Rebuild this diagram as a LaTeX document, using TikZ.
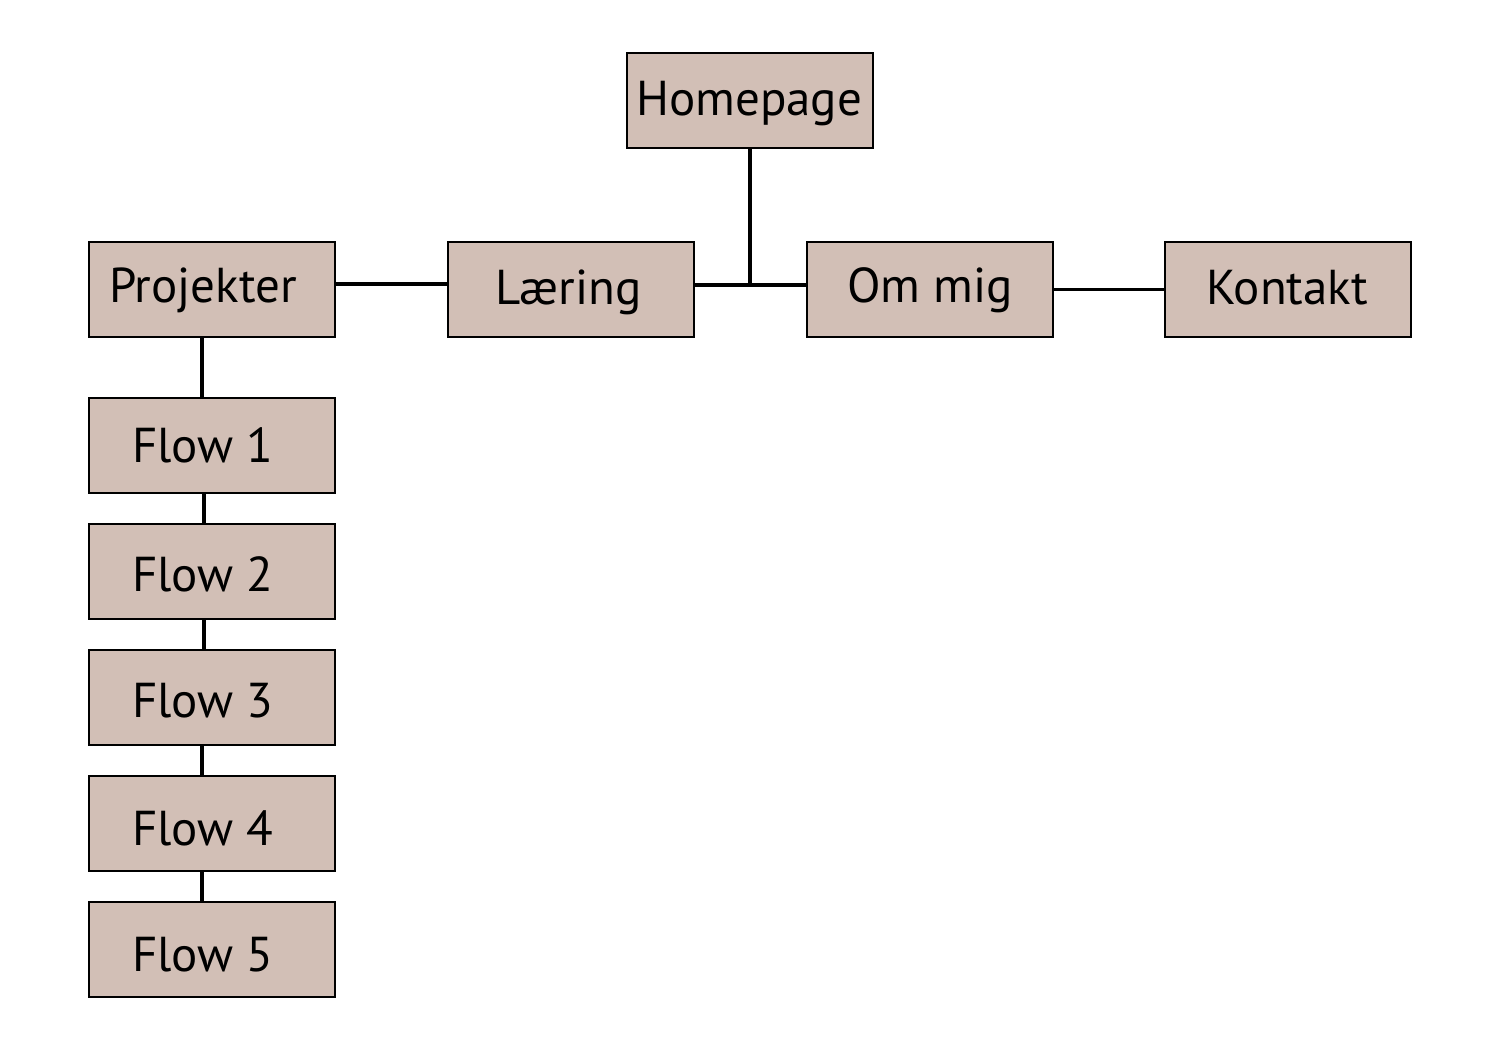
\documentclass[tikz,border=0pt]{standalone}
\usepackage{fontspec}
\setmainfont{PT Sans}
\definecolor{boxfill}{HTML}{D2BFB6}
\begin{document}
\begin{tikzpicture}[x=1pt,y=-1pt,
  box/.style={draw=black,line width=1.2pt,fill=boxfill,minimum width=246pt,minimum height=95pt,inner sep=0pt},
  lbl/.style={anchor=base west,inner sep=0pt,font=\fontsize{49}{58}\selectfont},
  conn/.style={line width=3.5pt}]
\useasboundingbox (0,0) rectangle (1487,1060);
\node[box] (home) at (750,100.5) {};
\node[box] (proj) at (212,289.5) {};
\node[box] (laer) at (571,289.5) {};
\node[box] (om) at (930,289.5) {};
\node[box] (kont) at (1288,289.5) {};
\node[box] (f1) at (212,445.5) {};
\node[box] (f2) at (212,571.5) {};
\node[box] (f3) at (212,697.5) {};
\node[box] (f4) at (212,823.5) {};
\node[box] (f5) at (212,949.5) {};
\node[lbl] (homet) at (636,115) {Homepage};
\node[lbl] (projt) at (109,302) {Projekter};
\node[lbl] (laert) at (495,304) {Læring};
\node[lbl] (omt) at (847,302) {Om mig};
\node[lbl] (kontt) at (1206,304) {Kontakt};
\node[lbl] (f1t) at (132,462) {Flow 1};
\node[lbl] (f2t) at (132,591) {Flow 2};
\node[lbl] (f3t) at (132,717) {Flow 3};
\node[lbl] (f4t) at (132,845) {Flow 4};
\node[lbl] (f5t) at (132,971) {Flow 5};
\coordinate (J) at (750,285);
\begin{scope}[conn]
\draw (home.south) -- (J);
\draw (laer.east |- J) -- (om.west |- J);
\draw ([yshift=5.5pt]proj.east) -- ([yshift=5.5pt]laer.west);
\draw (om.east) -- (kont.west);
\draw ([xshift=-10pt]proj.south) -- ([xshift=-10pt]f1.north);
\draw ([xshift=-8pt]f1.south) -- ([xshift=-8pt]f2.north);
\draw ([xshift=-8pt]f2.south) -- ([xshift=-8pt]f3.north);
\draw ([xshift=-10pt]f3.south) -- ([xshift=-10pt]f4.north);
\draw ([xshift=-10pt]f4.south) -- ([xshift=-10pt]f5.north);
\end{scope}
\end{tikzpicture}
\end{document}
